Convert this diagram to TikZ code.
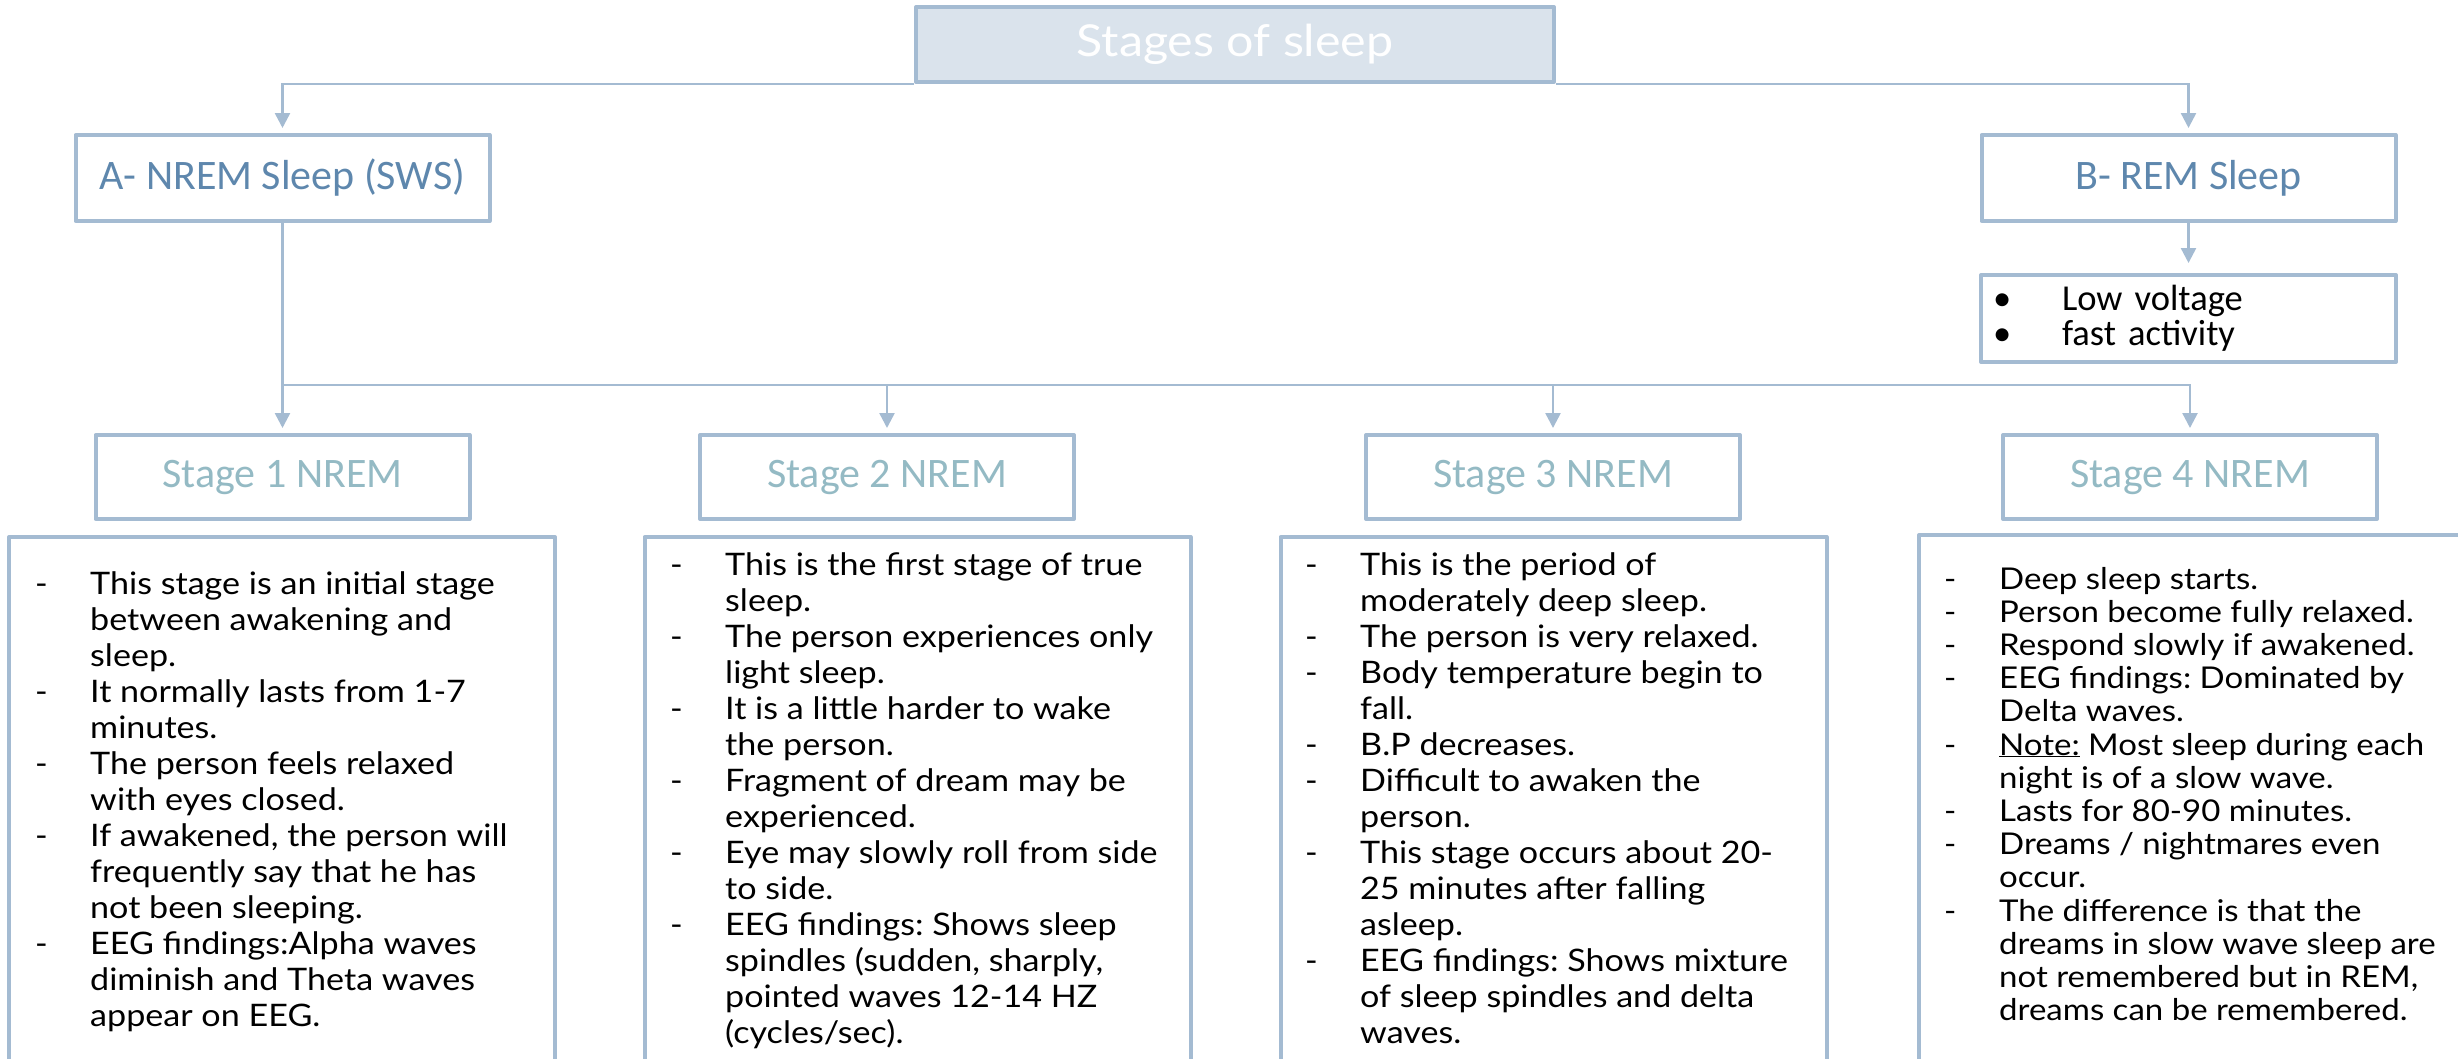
\documentclass[tikz,border=0pt]{standalone}
\usepackage{fontspec}
\usetikzlibrary{arrows.meta}
\newfontfamily\headfont{Carlito}
\newfontfamily\bodyfont{Lato}[FakeStretch=1.1]
\definecolor{frame}{RGB}{164,187,210}
\definecolor{titlefill}{RGB}{218,227,236}
\definecolor{headblue}{RGB}{94,135,173}
\definecolor{stageblue}{RGB}{148,186,196}
\frenchspacing
\tikzset{
  box/.style={draw=frame, line width=4pt, line join=round, inner sep=0pt},
  link/.style={draw=frame, line width=2.5pt},
  arrowlink/.style={link, -{Triangle[length=15pt,width=15pt]}, shorten >=5pt},
  head/.style={box, minimum width=414pt, minimum height=86pt, text=headblue, font=\headfont\fontsize{42}{50}\selectfont},
  stage/.style={box, minimum width=374pt, minimum height=84pt, text=stageblue, font=\headfont\fontsize{42}{50}\selectfont},
  textbox/.style={box, anchor=north, minimum width=546pt, minimum height=600pt},
  body/.style={anchor=base west, inner sep=0pt, font=\bodyfont\fontsize{31}{36}\selectfont},
}
\newenvironment{items}{\begin{tabular}[t]{@{}p{55pt}@{}l@{}}}{\end{tabular}}
\begin{document}
\begin{tikzpicture}[x=1pt, y=-1pt]
\useasboundingbox (0,0) rectangle (2458,1058);
\clip (0,0) rectangle (2458,1058);
\node[box, fill=titlefill, minimum width=638pt, minimum height=75pt, text=white, font=\bodyfont\fontsize{44}{52}\selectfont] (title) at (1235,44.5) {Stages of sleep};
\node[head] (nrem) at (282.5,178) {A- NREM Sleep (SWS)};
\node[head] (rem) at (2188.5,178) {B- REM Sleep};
\node[box, minimum width=415pt, minimum height=87pt, align=left, text width=391pt, inner xsep=12pt, font=\headfont\fontsize{36.5}{35}\selectfont] (remfacts) at (2188.5,318.5)
  {\makebox[69pt][l]{\textbullet}Low voltage\\\makebox[69pt][l]{\textbullet}fast activity};
\node[stage] (st1) at (282.5,477) {Stage 1 NREM};
\node[stage] (st2) at (887,477) {Stage 2 NREM};
\node[stage] (st3) at (1553,477) {Stage 3 NREM};
\node[stage] (st4) at (2190,477) {Stage 4 NREM};
\node[textbox] (box1) at (282,535) {};
\node[textbox] (box2) at (917.5,535) {};
\node[textbox] (box3) at (1553.5,535) {};
\node[textbox] (box4) at (2192,533) {};
\node[body] (txt1) at (35,594) {\begin{items}
- & This stage is an initial stage\\
  & between awakening and\\
  & sleep.\\
- & It normally lasts from 1-7\\
  & minutes.\\
- & The person feels relaxed\\
  & with eyes closed.\\
- & If awakened, the person will\\
  & frequently say that he has\\
  & not been sleeping.\\
- & EEG findings:Alpha waves\\
  & diminish and Theta waves\\
  & appear on EEG.
\end{items}};
\node[body] (txt2) at (670,575) {\begin{items}
- & This is the first stage of true\\
  & sleep.\\
- & The person experiences only\\
  & light sleep.\\
- & It is a little harder to wake\\
  & the person.\\
- & Fragment of dream may be\\
  & experienced.\\
- & Eye may slowly roll from side\\
  & to side.\\
- & EEG findings: Shows sleep\\
  & spindles (sudden, sharply,\\
  & pointed waves 12-14 HZ\\
  & (cycles/sec).
\end{items}};
\node[body] (txt3) at (1305,575) {\begin{items}
- & This is the period of\\
  & moderately deep sleep.\\
- & The person is very relaxed.\\
- & Body temperature begin to\\
  & fall.\\
- & B.P decreases.\\
- & Difficult to awaken the\\
  & person.\\
- & This stage occurs about 20-\\
  & 25 minutes after falling\\
  & asleep.\\
- & EEG findings: Shows mixture\\
  & of sleep spindles and delta\\
  & waves.
\end{items}};
\node[body, font=\bodyfont\fontsize{30}{33.2}\selectfont] (txt4) at (1944,589) {\begin{items}
- & Deep sleep starts.\\
- & Person become fully relaxed.\\
- & Respond slowly if awakened.\\
- & EEG findings: Dominated by\\
  & Delta waves.\\
- & \underline{Note:} Most sleep during each\\
  & night is of a slow wave.\\
- & Lasts for 80-90 minutes.\\
- & Dreams / nightmares even\\
  & occur.\\
- & The difference is that the\\
  & dreams in slow wave sleep are\\
  & not remembered but in REM,\\
  & dreams can be remembered.
\end{items}};
\coordinate (bus) at (282.5,385);
\draw[arrowlink] (title.south west) -| (nrem.north);
\draw[arrowlink] (title.south east) -| (rem.north);
\draw[arrowlink, shorten >=10pt] (rem) -- (remfacts);
\draw[link] (nrem.south) -- (bus);
\foreach \s in {1,...,4}
  \draw[arrowlink] (bus) -| (st\s.north);
\end{tikzpicture}
\end{document}
